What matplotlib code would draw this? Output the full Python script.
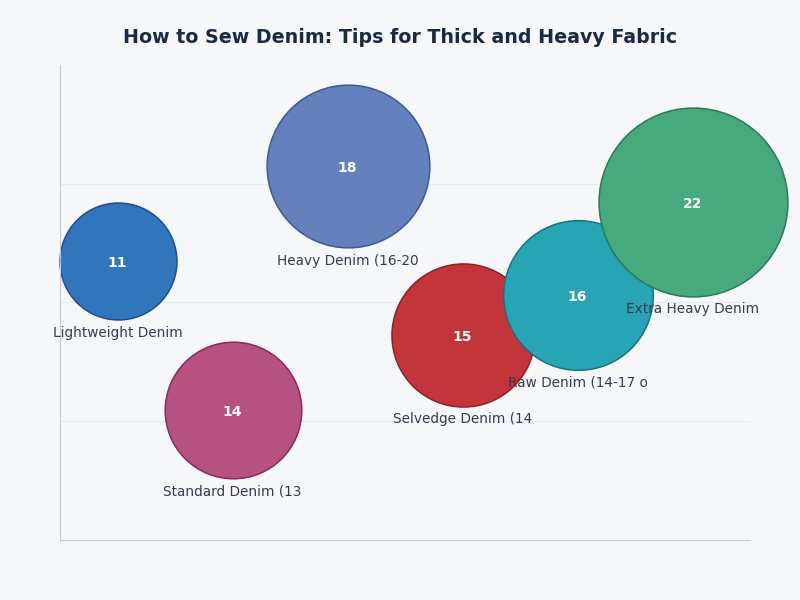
import matplotlib.pyplot as plt

categories = ['Lightweight Denim', 'Standard Denim (13', 'Heavy Denim (16-20',
              'Selvedge Denim (14', 'Raw Denim (14-17 o', 'Extra Heavy Denim']
weights = [11, 14, 18, 15, 16, 22]
difficulty = [58.7, 27.4, 78.7, 43.2, 51.6, 71.2]

fill_colors = ['#3176bd', '#b75280', '#6581bd', '#c3353b', '#27a5b5', '#46aa7e']
edge_colors = ['#1f4e8a', '#8a2a5a', '#3d5a94', '#8f1f25', '#17727f', '#2b7b58']

bg = '#f5f7fb'
fig = plt.figure(figsize=(8, 6), dpi=100, facecolor=bg)
ax = fig.add_axes([0.075, 0.1, 0.8625, 0.7917])
ax.set_facecolor(bg)

for i in range(len(categories)):
    r_px = 22.5 + 3.27 * weights[i]
    s = (2 * r_px * 0.72) ** 2
    ax.scatter(i, difficulty[i], s=s, color=fill_colors[i], edgecolor=edge_colors[i],
               linewidth=1.1, zorder=2 + i, clip_on=False)
    ax.text(i, difficulty[i] - 0.4, str(weights[i]), ha='center', va='center',
            color='white', fontsize=10, fontweight='bold', zorder=20)
    ax.annotate(categories[i], (i, difficulty[i]), xytext=(0, -(r_px + 13)),
                textcoords='offset pixels', ha='center', va='center',
                fontsize=9.8, color='#333d4f', zorder=21)

ax.set_xlim(-0.5, 5.5)
ax.set_ylim(0, 100)
ax.set_yticks([25, 50, 75])
ax.set_xticks([])
ax.tick_params(left=False, labelleft=False)
ax.grid(axis='y', color='#e6e9ee', linewidth=0.8)
ax.set_axisbelow(True)
for side in ['top', 'right']:
    ax.spines[side].set_visible(False)
for side in ['left', 'bottom']:
    ax.spines[side].set_color('#c5c9d0')

fig.suptitle('How to Sew Denim: Tips for Thick and Heavy Fabric', y=0.953,
             fontsize=13.7, fontweight='bold', color='#1a2a44')

fig.savefig('out.png', dpi=100, facecolor=bg)
